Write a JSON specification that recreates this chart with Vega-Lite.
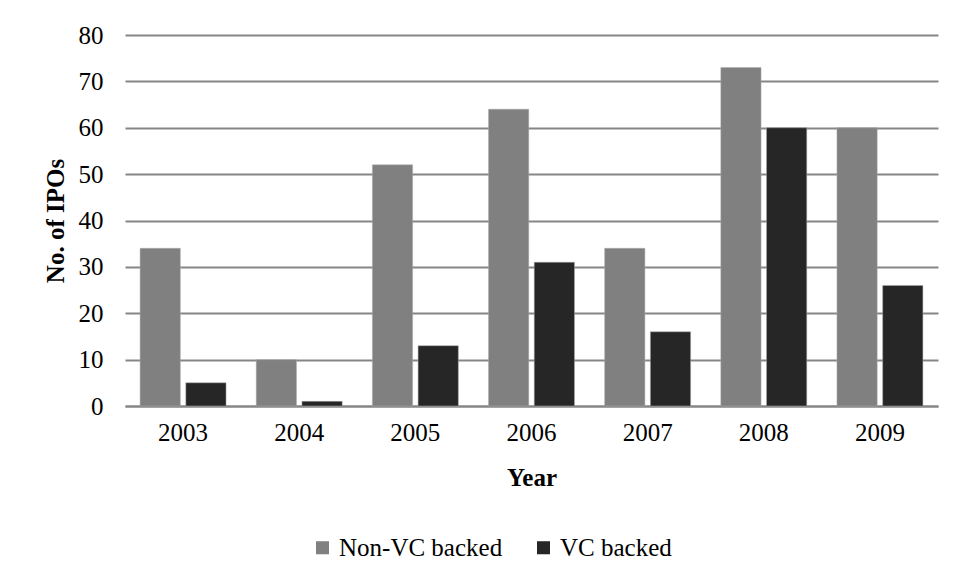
{
  "$schema": "https://vega.github.io/schema/vega-lite/v6.json",
  "width": 813,
  "height": 371,
  "autosize": {"type": "none"},
  "padding": {"left": 125, "top": 35, "right": 18, "bottom": 175},
  "background": "white",
  "config": {
    "font": "Liberation Serif",
    "view": {"stroke": null},
    "axis": {"labelFont": "Liberation Serif", "titleFont": "Liberation Serif", "labelColor": "#000", "titleColor": "#000"},
    "legend": {"labelFont": "Liberation Serif"}
  },
  "data": {
    "values": [
      {"Year": "2003", "Type": "Non-VC backed", "IPOs": 34},
      {"Year": "2003", "Type": "VC backed", "IPOs": 5},
      {"Year": "2004", "Type": "Non-VC backed", "IPOs": 10},
      {"Year": "2004", "Type": "VC backed", "IPOs": 1},
      {"Year": "2005", "Type": "Non-VC backed", "IPOs": 52},
      {"Year": "2005", "Type": "VC backed", "IPOs": 13},
      {"Year": "2006", "Type": "Non-VC backed", "IPOs": 64},
      {"Year": "2006", "Type": "VC backed", "IPOs": 31},
      {"Year": "2007", "Type": "Non-VC backed", "IPOs": 34},
      {"Year": "2007", "Type": "VC backed", "IPOs": 16},
      {"Year": "2008", "Type": "Non-VC backed", "IPOs": 73},
      {"Year": "2008", "Type": "VC backed", "IPOs": 60},
      {"Year": "2009", "Type": "Non-VC backed", "IPOs": 60},
      {"Year": "2009", "Type": "VC backed", "IPOs": 26}
    ]
  },
  "mark": {"type": "bar", "stroke": "#aaaaaa", "strokeWidth": 0.5},
  "encoding": {
    "x": {
      "field": "Year", "type": "nominal",
      "scale": {"paddingInner": 0.26, "paddingOuter": 0.13},
      "axis": {
        "title": "Year", "titleFontSize": 25, "titleFontWeight": "bold", "titlePadding": 20,
        "labelAngle": 0, "labelFontSize": 25, "labelPadding": 14,
        "ticks": false, "domainColor": "#868686", "domainWidth": 2
      }
    },
    "xOffset": {"field": "Type", "type": "nominal", "scale": {"paddingInner": 0.12, "paddingOuter": 0}},
    "y": {
      "field": "IPOs", "type": "quantitative",
      "scale": {"domain": [0, 80]},
      "axis": {
        "title": "No.  of IPOs", "titleFontSize": 25, "titleFontWeight": "bold", "titlePadding": 10,
        "values": [0, 10, 20, 30, 40, 50, 60, 70, 80],
        "labelFontSize": 25, "labelPadding": 22, "ticks": false, "domain": false,
        "grid": true, "gridColor": "#868686", "gridWidth": 2
      }
    },
    "color": {
      "field": "Type", "type": "nominal",
      "scale": {"domain": ["Non-VC backed", "VC backed"], "range": ["#808080", "#262626"]},
      "legend": {
        "title": null, "orient": "none", "direction": "horizontal",
        "legendX": 185, "legendY": 500, "symbolType": "square", "symbolSize": 170,
        "symbolStrokeWidth": 0, "labelFontSize": 25, "labelLimit": 400, "columnPadding": 28, "labelOffset": 4
      }
    }
  }
}
